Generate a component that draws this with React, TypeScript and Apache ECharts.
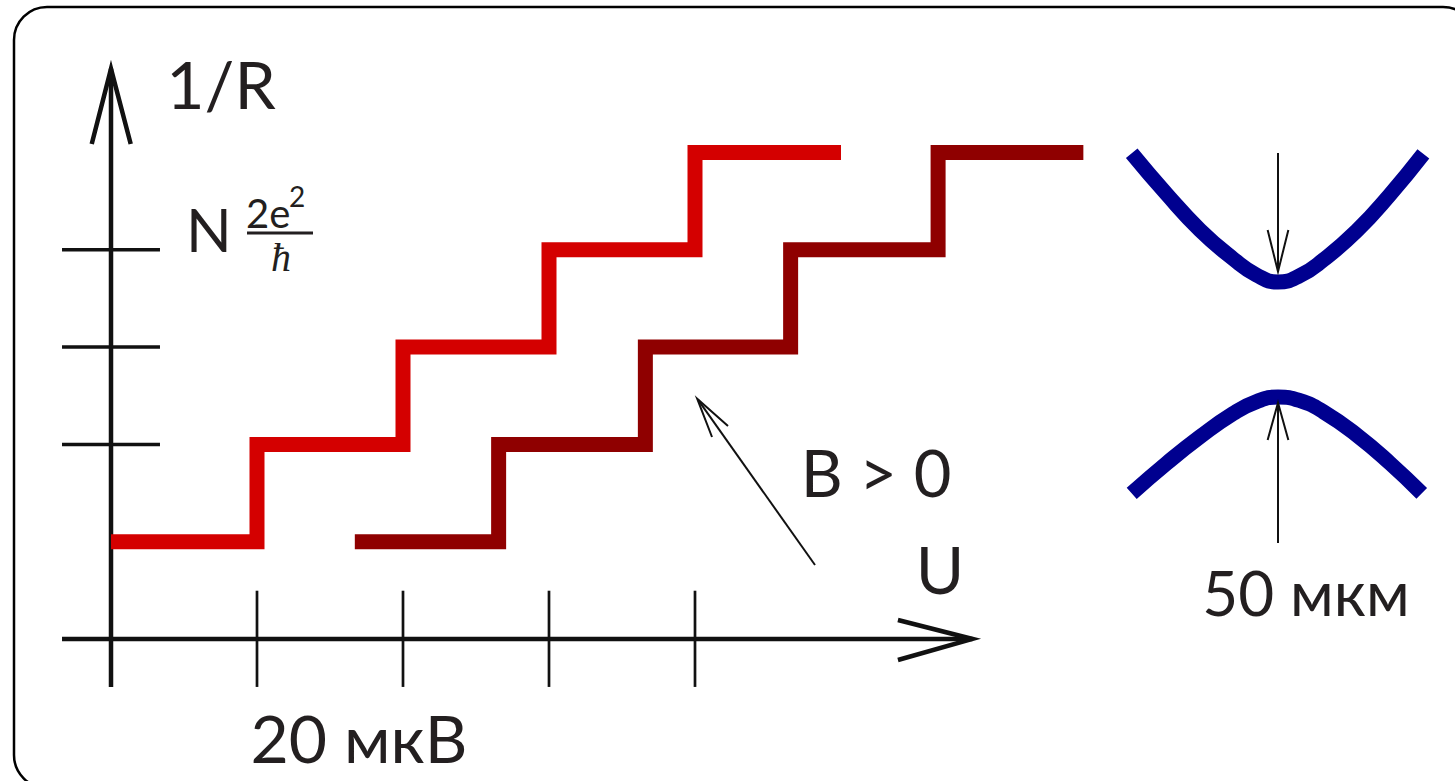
import { useEffect, useRef } from "react";
import * as echarts from "echarts";

// ---- Main diagram: x in µV, y in conductance quanta N ----
const stepEdgesB0 = [0, 20, 40, 60, 80, 100]; // µV, B = 0 (red)
const stepEdgesB = [33.4, 53.1, 73.2, 93.1, 113.3, 133.2]; // µV, B > 0 (dark red)
const stepLevels = [1, 2, 3, 4, 5];
const xTickValues = [20, 40, 60, 80];
const yTickValues = [2, 3, 4];

// ---- Constriction sketch: µm ----
const upperEdgeX = [-63.6, -48.4, -33.9, -19.4, -9.3, 0, 9.6, 19.7, 34.2, 48.7, 63.2];
const upperEdgeY = [81.0, 63.2, 47.6, 35.0, 28.0, 25.0, 27.8, 34.6, 47.2, 63.0, 80.7];
const lowerEdgeX = [-63.6, -48.4, -33.9, -19.4, -9.3, 0, 9.6, 19.7, 34.2, 48.7, 62.5];
const lowerEdgeY = [-66.9, -53.8, -42.3, -32.1, -27.0, -25, -26.6, -31.4, -41.5, -53.8, -66.9];

const RED = "#d40000";
const DARK_RED = "#8f0000";
const BLUE = "#00008f";
const INK = "#111111";
const TEXT = "#231f20";
const FONT = "Lato, 'Open Sans', sans-serif";

function buildSteps(edges: number[], levels: number[]): number[][] {
  const pts: number[][] = [[edges[0], levels[0]]];
  for (let i = 1; i < levels.length; i++) {
    pts.push([edges[i], levels[i - 1]]);
    pts.push([edges[i], levels[i]]);
  }
  pts.push([edges[edges.length - 1], levels[levels.length - 1]]);
  return pts;
}

function zip(xs: number[], ys: number[]): number[][] {
  return xs.map((x, i) => [x, ys[i]]);
}

function seg(data: number[][], width: number, color: string, grid = 0, extra: any = {}) {
  return {
    type: "line",
    xAxisIndex: grid,
    yAxisIndex: grid,
    data,
    symbol: "none",
    silent: true,
    animation: false,
    lineStyle: { width, color, cap: "butt", join: "miter", miterLimit: 30 },
    emphasis: { disabled: true },
    z: 2,
    ...extra,
  };
}

export default function App() {
  const ref = useRef<HTMLDivElement>(null);
  useEffect(() => {
    if (!ref.current) return;
    const chart = echarts.init(ref.current, undefined, { renderer: "svg" });

    const series: any[] = [];
    // axes
    series.push(seg([[-6.71, 0], [118.0, 0]], 4.5, INK));
    series.push(seg([[107.8, 0.195], [118.0, 0], [107.8, -0.216]], 4.5, INK));
    series.push(seg([[0, -0.493], [0, 5.86]], 4.5, INK));
    series.push(seg([[-2.64, 5.087], [0, 5.86], [2.7, 5.087]], 4.5, INK));
    // ticks
    yTickValues.forEach((v) => series.push(seg([[-6.71, v], [6.71, v]], 3.5, INK)));
    xTickValues.forEach((u) => series.push(seg([[u, 0.496], [u, -0.493]], 2.7, INK)));
    // step curves
    series.push(seg(buildSteps(stepEdgesB0, stepLevels), 15, RED, 0, { z: 3 }));
    series.push(seg(buildSteps(stepEdgesB, stepLevels), 15, DARK_RED, 0, { z: 3 }));
    // pointer arrow to B>0 curve
    series.push(seg([[96.44, 0.76], [80.4, 2.46]], 2, INK, 0, { z: 4 }));
    series.push(seg([[82.33, 2.076], [80.3, 2.47], [84.52, 2.189]], 2, INK, 0, { z: 4 }));
    // constriction edges
    const smoothOpts = { smooth: 0.5 };
    series.push(seg(zip(upperEdgeX, upperEdgeY), 15, BLUE, 1, smoothOpts));
    series.push(seg(zip(lowerEdgeX, lowerEdgeY), 15, BLUE, 1, smoothOpts));
    // width arrows
    series.push(seg([[0, 81.1], [0, 30]], 2, INK, 1, { z: 4 }));
    series.push(seg([[-4.5, 47.6], [0, 29.5], [4.5, 47.6]], 2, INK, 1, { z: 4 }));
    series.push(seg([[0, -88.5], [0, -28]], 2, INK, 1, { z: 4 }));
    series.push(seg([[-4.5, -43.7], [0, -27.5], [4.5, -43.7]], 2, INK, 1, { z: 4 }));

    const txt = (text: string, x: number, y: number, size: number, align = "center", family = FONT, style = "normal") => ({
      type: "text",
      silent: true,
      z: 10,
      style: {
        text,
        x,
        y,
        fill: TEXT,
        font: `${style} normal ${size}px ${family}`,
        align,
        verticalAlign: "middle",
      },
    });

    chart.setOption({
      animation: false,
      backgroundColor: "#ffffff",
      grid: [
        { left: 8.8, top: 6.55, width: 1445.4, height: 773.5 },
        { left: 1117, top: 109.5, width: 322, height: 460 },
      ],
      xAxis: [
        { type: "value", min: -14, max: 184, show: false, gridIndex: 0 },
        { type: "value", min: -70, max: 70, show: false, gridIndex: 1 },
      ],
      yAxis: [
        { type: "value", min: -1.45, max: 6.5, show: false, gridIndex: 0 },
        { type: "value", min: -100, max: 100, show: false, gridIndex: 1 },
      ],
      series,
      graphic: [
        {
          type: "rect",
          silent: true,
          z: 1,
          shape: { x: 14, y: 7, width: 1462, height: 781, r: 33 },
          style: { fill: "none", stroke: "#000", lineWidth: 2.5 },
        },
        txt("1/R", 221, 83, 66),
        txt("N", 209, 229, 60),
        txt("2e", 246, 213, 40, "left"),
        txt("2", 289, 196, 28, "left"),
        {
          type: "rect",
          silent: true,
          z: 10,
          shape: { x: 247, y: 231.5, width: 66, height: 3 },
          style: { fill: TEXT },
        },
        txt("ħ", 281, 257, 40, "center", "'Liberation Serif', serif", "italic"),
        txt("B > 0", 876, 472, 65),
        txt("U", 940, 568, 66),
        txt("20 мкВ", 359, 737, 66),
        txt("50 мкм", 1306, 592, 62),
      ],
    });
    return () => chart.dispose();
  }, []);
  return (
    <div
      ref={ref}
      style={{ position: "fixed", left: 0, top: 0, width: 1455, height: 781, background: "#fff" }}
    />
  );
}
